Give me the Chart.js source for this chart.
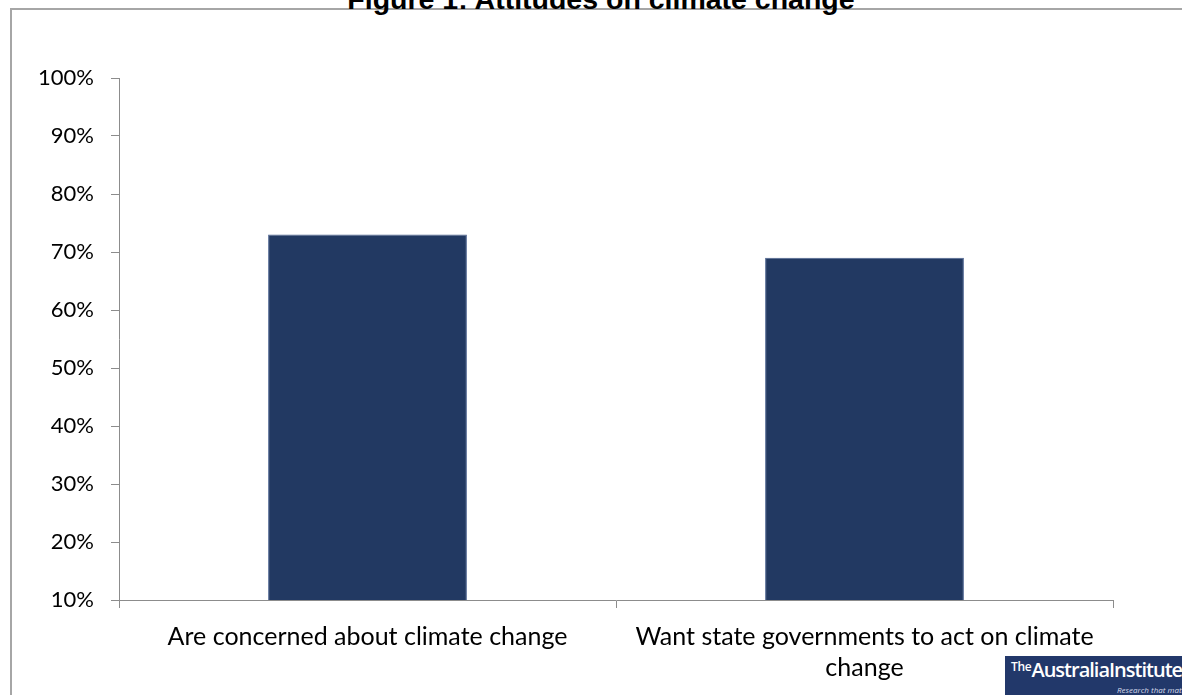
<!DOCTYPE html>
<html>
<head>
<meta charset="utf-8">
<script src="https://cdn.jsdelivr.net/npm/chart.js@4"></script>
<style>
  html, body { margin: 0; padding: 0; background: #fff; }
  body { width: 1182px; height: 695px; position: relative; overflow: hidden; }
  #frame {
    position: absolute; left: 10px; top: 8px; width: 1200px; height: 720px;
    border: 2px solid #a6a6a6; box-sizing: border-box;
  }
  #title {
    position: absolute; left: 0; width: 1202px; top: -17px; text-align: center;
    font: bold 28.5px "Liberation Sans", Arial, sans-serif; color: #000; line-height: 32px;
  }
  #wrap { position: absolute; left: 0; top: 0; width: 1182px; height: 695px; }
  #logo {
    position: absolute; left: 1005px; top: 656px; width: 190px; height: 45px;
    background: #22386a; color: #fff; font-family: "Open Sans", sans-serif;
  }
  #logo .name { position: absolute; left: 6px; top: 0px; font-size: 20px; font-weight: 600; letter-spacing: -1px; white-space: nowrap; }
  #logo .name sup { font-size: 12px; vertical-align: 6px; letter-spacing: -0.3px; }
  #logo .tag { position: absolute; left: 112px; top: 28px; font-size: 8px; font-style: italic; white-space: nowrap; color: #d8dcea; }
</style>
</head>
<body>
<div id="frame"></div>
<div id="title">Figure 1: Attitudes on climate change</div>
<div id="wrap"><canvas id="myChart" width="1182" height="695"></canvas></div>
<div id="logo"><span class="name"><sup>The</sup>AustraliaInstitute</span><span class="tag">Research that matters</span></div>
<script>
// values
const categories = [
  "Are concerned about climate change",
  ["Want state governments to act on climate", "change"]
];
const shares = [0.73, 0.69];
const yTicks = [0.1, 0.2, 0.3, 0.4, 0.5, 0.6, 0.7, 0.8, 0.9, 1.0];

const barColor = "#223962";
const axisColor = "#8c8c8c";

Chart.defaults.animation = false;

const ctx = document.getElementById("myChart");
new Chart(ctx, {
  type: "bar",
  data: {
    labels: categories,
    datasets: [{
      label: "Attitudes",
      data: shares,
      backgroundColor: barColor,
      borderColor: "#4d6490",
      borderWidth: 1,
      categoryPercentage: 1,
      barPercentage: 0.4,
    }],
  },
  options: {
    responsive: false,
    devicePixelRatio: 1,
    layout: { padding: { left: 0, right: 69, top: 78, bottom: 0 } },
    plugins: { legend: { display: false }, tooltip: { enabled: false } },
    scales: {
      x: {
        offset: true,
        grid: { display: true, offset: true, drawOnChartArea: false, tickLength: 8, color: axisColor },
        border: { color: axisColor, width: 1 },
        ticks: {
          color: "#000",
          font: { family: "Lato, 'Open Sans', sans-serif", size: 25, lineHeight: 1.22 },
          padding: 14,
          maxRotation: 0,
          autoSkip: false,
        },
        afterFit: (s) => { s.height = 95; },
      },
      y: {
        min: 0.1,
        max: 1.0,
        afterBuildTicks: (s) => { s.ticks = yTicks.map((v) => ({ value: v })); },
        grid: { display: true, drawOnChartArea: false, tickLength: 8, color: axisColor },
        border: { color: axisColor, width: 1 },
        ticks: {
          color: "#000",
          font: { family: "Lato, 'Open Sans', sans-serif", size: 22 },
          padding: 17,
          callback: (v) => Math.round(v * 100) + "%",
        },
        afterFit: (s) => { s.width = 119; },
      },
    },
  },
});
</script>
</body>
</html>
